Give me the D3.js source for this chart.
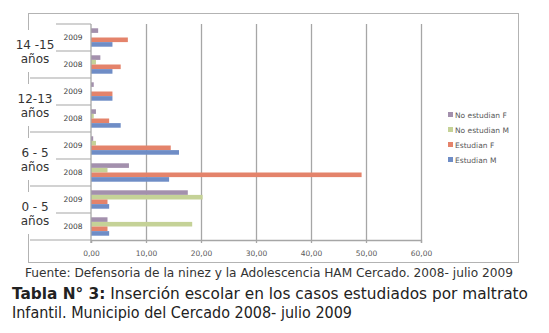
<!DOCTYPE html>
<html>
<head>
<meta charset="utf-8">
<script src="https://cdn.jsdelivr.net/npm/d3@7"></script>
<style>
  body { margin: 0; background: #fff; }
  svg text { font-family: "DejaVu Sans", Verdana, sans-serif; }
</style>
</head>
<body>
<div id="chart"></div>
<script>
// age groups (outer level) and years (inner level), top to bottom
const groups = [["14 -15", "años"], ["12-13", "años"], ["6 - 5", "años"], ["0 - 5", "años"]];
const years = ["2009", "2008"];
const seriesNames = ["No estudian F", "No estudian M", "Estudian F", "Estudian M"];

// values per row, same order as groups x years (top to bottom)
const noEstudianF = [1.3, 1.7, 0.5, 0.9, 0.4, 6.9, 17.6, 3.0];
const noEstudianM = [0, 0.9, 0, 0.5, 0.9, 3.0, 20.3, 18.4];
const estudianF = [6.7, 5.4, 3.9, 3.3, 14.5, 49.2, 3.0, 3.0];
const estudianM = [3.9, 3.9, 3.9, 5.4, 16.0, 14.2, 3.3, 3.3];

const xTicks = [0, 10, 20, 30, 40, 50, 60];

const colors = {
    "No estudian F": "#a390ad",
    "No estudian M": "#c5d297",
    "Estudian F": "#e4836b",
    "Estudian M": "#6f8dc6"
};
const seriesValues = {
    "No estudian F": noEstudianF,
    "No estudian M": noEstudianM,
    "Estudian F": estudianF,
    "Estudian M": estudianM
};

const W = 549, H = 333;
const svg = d3.select("#chart").append("svg")
    .attr("width", W).attr("height", H);

// outer frame
svg.append("rect")
    .attr("x", 28.5).attr("y", 13.5)
    .attr("width", 490).attr("height", 249)
    .attr("fill", "#fff")
    .attr("stroke", "#b3b3b3");

const plot = { left: 91, right: 421, top: 24, bottom: 240 };

const x = d3.scaleLinear().domain([0, 60]).range([plot.left, plot.right]);

const rows = [];
groups.forEach((g, gi) => years.forEach((yr, yi) => rows.push({ id: gi + "-" + yr, g: gi, year: yr, i: gi * 2 + yi })));

const y = d3.scaleBand()
    .domain(rows.map(d => d.id))
    .range([plot.top, plot.bottom])
    .padding(0);

const yInner = d3.scaleBand()
    .domain(seriesNames)
    .range([0, y.bandwidth()])
    .paddingInner(0)
    .paddingOuter(0.93);

// grid lines
const grid = svg.append("g")
    .attr("transform", `translate(0,${plot.bottom})`)
    .call(d3.axisBottom(x).tickValues(xTicks.slice(1)).tickSize(-(plot.bottom - plot.top)).tickFormat(""));
grid.select(".domain").remove();
grid.selectAll("line").attr("stroke", "#a6a6a6").attr("stroke-width", 1.3);

// bars
const barData = [];
rows.forEach(r => seriesNames.forEach(s => barData.push({ row: r.id, s: s, v: seriesValues[s][r.i] })));

svg.append("g").selectAll("rect")
    .data(barData)
    .enter()
    .append("rect")
    .attr("x", x(0))
    .attr("y", d => y(d.row) + yInner(d.s))
    .attr("width", d => x(d.v) - x(0))
    .attr("height", yInner.bandwidth())
    .attr("fill", d => colors[d.s]);

// x axis
const xAxis = svg.append("g")
    .attr("transform", `translate(0,${plot.bottom})`)
    .call(d3.axisBottom(x).tickValues(xTicks).tickSize(3).tickPadding(8)
        .tickFormat(d => d3.format(".2f")(d).replace(".", ",")));
xAxis.select(".domain").attr("stroke", "#a6a6a6").attr("stroke-width", 1.3);
xAxis.selectAll("line").attr("stroke", "#a6a6a6").attr("stroke-width", 1.3);
xAxis.selectAll("text").attr("fill", "#595959").style("font-size", "7.5px");

// y axis line
svg.append("line")
    .attr("x1", plot.left).attr("x2", plot.left)
    .attr("y1", plot.top).attr("y2", plot.bottom + 3)
    .attr("stroke", "#a6a6a6").attr("stroke-width", 1.3);

// outer label boxes (hide frame edge behind the labels)
svg.append("g").selectAll("rect")
    .data(groups)
    .enter()
    .append("rect")
    .attr("x", 20)
    .attr("y", (d, i) => y(i + "-2009") + 6)
    .attr("width", 34)
    .attr("height", y.bandwidth() * 2 - 12)
    .attr("fill", "#fff");

// separators of the category axis
const sep = svg.append("g").attr("stroke", "#a6a6a6").attr("stroke-width", 1.2);
sep.append("line")
    .attr("x1", 56).attr("x2", plot.left)
    .attr("y1", plot.top).attr("y2", plot.top);
rows.forEach(r => {
    const yb = y(r.id) + y.bandwidth();
    sep.append("line")
        .attr("x1", r.year === "2008" ? 30 : 56)
        .attr("x2", plot.left)
        .attr("y1", yb).attr("y2", yb);
});

// inner labels (years)
svg.append("g").selectAll("text")
    .data(rows)
    .enter()
    .append("text")
    .attr("x", 73)
    .attr("y", d => y(d.id) + y.bandwidth() / 2 + 2.5)
    .attr("text-anchor", "middle")
    .attr("fill", "#404040")
    .style("font-size", "7.5px")
    .text(d => d.year);

// outer labels (age groups)
const outer = svg.append("g").selectAll("text")
    .data(groups)
    .enter()
    .append("text")
    .attr("x", 35)
    .attr("y", (d, i) => y(i + "-2009") + y.bandwidth() - 2.5)
    .attr("text-anchor", "middle")
    .attr("fill", "#333")
    .style("font-size", "12px");
outer.selectAll("tspan")
    .data(d => d)
    .enter()
    .append("tspan")
    .attr("x", 35)
    .attr("dy", (d, i) => i === 0 ? 0 : 14)
    .text(d => d);

// legend
const legend = svg.append("g").selectAll("g")
    .data(seriesNames)
    .enter()
    .append("g")
    .attr("transform", (d, i) => `translate(448,${115 + i * 15})`);
legend.append("rect")
    .attr("x", 0).attr("y", -3)
    .attr("width", 5).attr("height", 5)
    .attr("fill", d => colors[d]);
legend.append("text")
    .attr("x", 7).attr("y", 2.5)
    .attr("fill", "#595959")
    .style("font-size", "7.5px")
    .text(d => d);

// captions
svg.append("text")
    .attr("x", 269).attr("y", 277)
    .attr("text-anchor", "middle")
    .attr("fill", "#333")
    .style("font-size", "11.5px")
    .attr("textLength", 488)
    .attr("lengthAdjust", "spacingAndGlyphs")
    .text("Fuente: Defensoria de la ninez y la Adolescencia HAM Cercado. 2008- julio 2009");

const t1 = svg.append("text")
    .attr("x", 12).attr("y", 299)
    .attr("fill", "#222")
    .style("font-size", "15px")
    .attr("textLength", 516)
    .attr("lengthAdjust", "spacingAndGlyphs");
t1.append("tspan").attr("font-weight", "bold").text("Tabla N° 3:");
t1.append("tspan").text(" Inserción escolar en los casos estudiados por maltrato");

svg.append("text")
    .attr("x", 12).attr("y", 318)
    .attr("fill", "#222")
    .style("font-size", "15px")
    .attr("textLength", 340)
    .attr("lengthAdjust", "spacingAndGlyphs")
    .text("Infantil. Municipio del Cercado 2008- julio 2009");
</script>
</body>
</html>
